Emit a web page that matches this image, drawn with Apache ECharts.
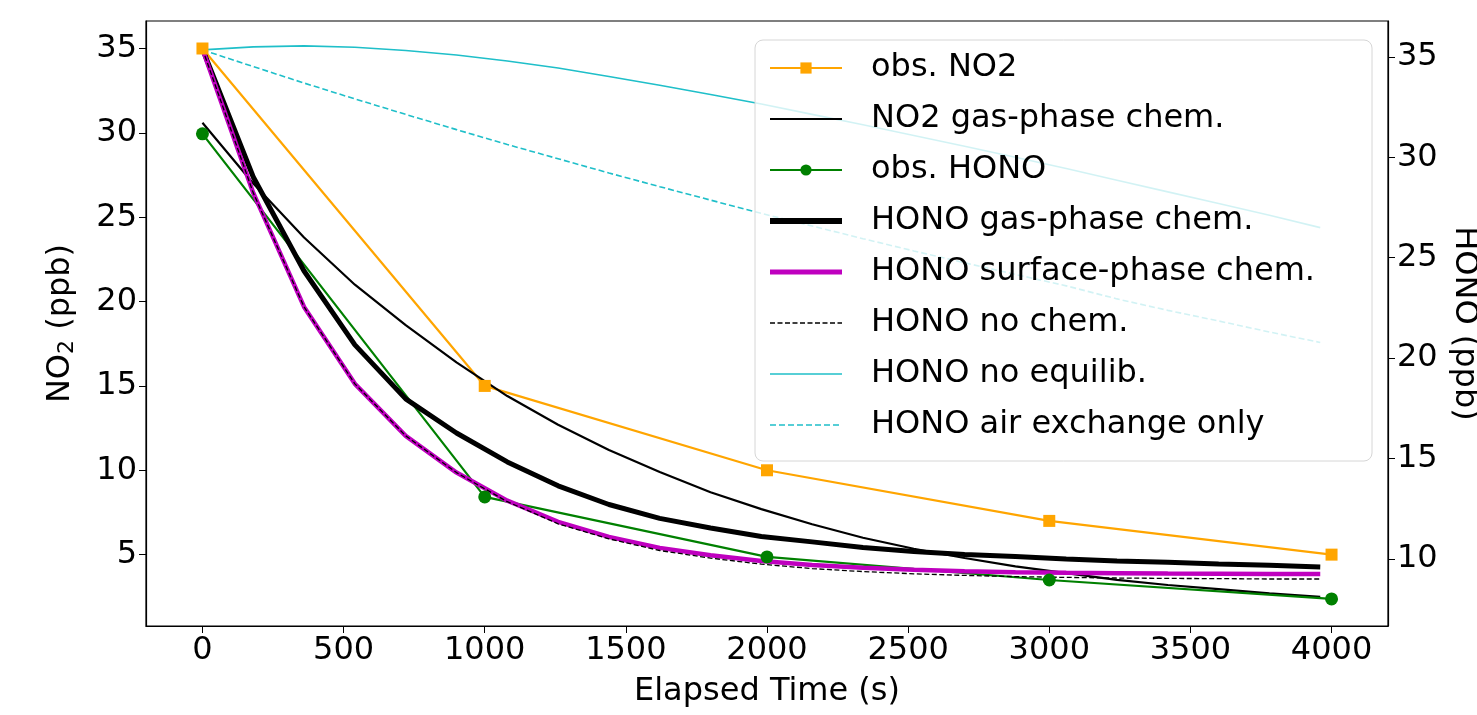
<!DOCTYPE html>
<html>
<head>
	<meta charset="UTF-8">
	<title>NO2 / HONO decay</title>
	<script src="https://cdn.jsdelivr.net/npm/echarts@6/dist/echarts.min.js"></script>
	<style>
		html, body { margin: 0; padding: 0; background: #fff; }
	</style>
</head>
<body>
	<div id="main" style="width: 1477px; height: 715px;"></div>
	<script>
		// elapsed time (s) of observations and of model output (3 min steps)
		var obsTime = [0, 1000, 2000, 3000, 4000];
		var modelTime = [0, 180, 360, 540, 720, 900, 1080, 1260, 1440, 1620, 1800, 1980,
			2160, 2340, 2520, 2700, 2880, 3060, 3240, 3420, 3600, 3780, 3960];

		// left axis (NO2, ppb)
		var obsNO2 = [35, 15, 10, 7, 5];
		var no2GasPhase = [30.6, 27.0, 23.8, 21.0, 18.6, 16.4, 14.4, 12.7, 11.2, 9.9, 8.7, 7.7,
			6.8, 6.0, 5.35, 4.8, 4.3, 3.9, 3.5, 3.2, 2.95, 2.7, 2.5];

		// right axis (HONO, ppb)
		var obsHONO = [31.17, 13.09, 10.10, 8.95, 8.01];
		var honoGasPhase = [35.40, 29.02, 24.34, 20.66, 17.97, 16.27, 14.83, 13.64, 12.71, 12.02, 11.54, 11.12,
			10.85, 10.57, 10.37, 10.22, 10.12, 10.00, 9.90, 9.83, 9.75, 9.68, 9.60];
		var honoSurface = [35.40, 28.23, 22.55, 18.72, 16.13, 14.30, 12.90, 11.85, 11.10, 10.55, 10.18, 9.90,
			9.70, 9.56, 9.46, 9.39, 9.34, 9.31, 9.29, 9.27, 9.26, 9.25, 9.25];
		var honoNoChem = [35.40, 28.23, 22.55, 18.72, 16.13, 14.30, 12.85, 11.75, 11.00, 10.42, 10.04, 9.74,
			9.52, 9.37, 9.26, 9.18, 9.12, 9.08, 9.05, 9.03, 9.02, 9.00, 9.00];
		var honoNoEquilib = [35.35, 35.50, 35.55, 35.48, 35.32, 35.10, 34.80, 34.45, 34.03, 33.59, 33.13, 32.66,
			32.14, 31.62, 31.09, 30.55, 30.00, 29.44, 28.86, 28.28, 27.70, 27.12, 26.50];
		var honoAirExchange = [35.35, 34.52, 33.70, 32.91, 32.14, 31.38, 30.64, 29.93, 29.22, 28.54, 27.87, 27.21,
			26.58, 25.95, 25.34, 24.75, 24.17, 23.60, 22.95, 22.38, 21.85, 21.30, 20.78];

		// tick labels
		var xTicks = [0, 500, 1000, 1500, 2000, 2500, 3000, 3500, 4000];
		var leftTicks = [5, 10, 15, 20, 25, 30, 35];
		var rightTicks = [10, 15, 20, 25, 30, 35];

		function pairs(xs, ys) {
			var res = [];
			for (var i = 0; i < xs.length; i++) {
				res.push([xs[i], ys[i]]);
			}
			return res;
		}

		var font = 'DejaVu Sans';
		var tickFont = { color: '#000', fontSize: 32, fontFamily: font };
		var plainNum = function (v) { return String(v); };
		var noMarker = { opacity: 0 };
		var axisLine = { show: true, onZero: false, lineStyle: { color: '#000', width: 1.2 } };

		var myChart = echarts.init(document.getElementById('main'));

		var option = {
			animation: false,
			backgroundColor: '#fff',
			grid: {
				left: 146, right: 89, top: 21, bottom: 89,
				outerBoundsMode: 'none',
				show: true, borderColor: '#000', borderWidth: 1.2
			},
			legend: {
				left: 755, top: 40,
				orient: 'vertical',
				padding: [10, 6, 18, 12],
				itemWidth: 72, itemHeight: 14,
				itemGap: 15,
				backgroundColor: 'rgba(255,255,255,0.8)',
				borderColor: '#d6d6d6', borderWidth: 1, borderRadius: 8,
				textStyle: {
					color: '#000', fontSize: 32, fontFamily: font,
					lineHeight: 36, width: 495, padding: [0, 0, 0, 24]
				},
				data: [
					{ name: 'obs. NO2' },
					{ name: 'NO2 gas-phase chem.', itemStyle: noMarker, lineStyle: { width: 2.2 } },
					{ name: 'obs. HONO' },
					{ name: 'HONO gas-phase chem.', itemStyle: noMarker, lineStyle: { width: 6 } },
					{ name: 'HONO surface-phase chem.', itemStyle: noMarker, lineStyle: { width: 5 } },
					{ name: 'HONO no chem.', itemStyle: noMarker, lineStyle: { width: 1.5 } },
					{ name: 'HONO no equilib.', itemStyle: noMarker, lineStyle: { width: 1.6 } },
					{ name: 'HONO air exchange only', itemStyle: noMarker, lineStyle: { width: 1.6 } }
				]
			},
			xAxis: {
				type: 'value',
				min: -200, max: 4200,
				name: 'Elapsed Time (s)',
				nameLocation: 'middle',
				nameGap: 50,
				nameTextStyle: tickFont,
				axisLine: axisLine,
				axisTick: { show: true, length: 7, lineStyle: { color: '#000' }, customValues: xTicks },
				axisLabel: Object.assign({ margin: 9, customValues: xTicks, formatter: plainNum }, tickFont),
				splitLine: { show: false }
			},
			yAxis: [{
				type: 'value',
				position: 'left',
				min: 0.77, max: 36.63,
				name: '{a|NO}{s|2}{a| (ppb)}',
				nameLocation: 'middle',
				nameGap: 68,
				nameTextStyle: {
					rich: {
						a: { fontSize: 32, fontFamily: font, color: '#000' },
						s: { fontSize: 22, fontFamily: font, color: '#000', padding: [12, 0, 0, 0] }
					}
				},
				axisLine: axisLine,
				axisTick: { show: true, length: 7, lineStyle: { color: '#000' }, customValues: leftTicks },
				axisLabel: Object.assign({ margin: 9, customValues: leftTicks, formatter: plainNum }, tickFont),
				splitLine: { show: false }
			}, {
				type: 'value',
				position: 'right',
				min: 6.66, max: 36.79,
				name: 'HONO (ppb)',
				nameLocation: 'middle',
				nameRotate: -90,
				nameGap: 60,
				nameTextStyle: tickFont,
				axisLine: axisLine,
				axisTick: { show: true, length: 7, lineStyle: { color: '#000' }, customValues: rightTicks },
				axisLabel: Object.assign({ margin: 9, customValues: rightTicks, formatter: plainNum }, tickFont),
				splitLine: { show: false }
			}],
			series: [{
				name: 'obs. NO2',
				type: 'line',
				yAxisIndex: 0,
				data: pairs(obsTime, obsNO2),
				symbol: 'rect', symbolSize: 12,
				itemStyle: { color: '#FFA500' },
				lineStyle: { color: '#FFA500', width: 2.2 }
			}, {
				name: 'NO2 gas-phase chem.',
				type: 'line',
				yAxisIndex: 0,
				data: pairs(modelTime, no2GasPhase),
				symbol: 'none',
				itemStyle: { color: '#000' },
				lineStyle: { color: '#000', width: 2.2 }
			}, {
				name: 'obs. HONO',
				type: 'line',
				yAxisIndex: 1,
				data: pairs(obsTime, obsHONO),
				symbol: 'circle', symbolSize: 13,
				itemStyle: { color: '#008000' },
				lineStyle: { color: '#008000', width: 2.2 }
			}, {
				name: 'HONO gas-phase chem.',
				type: 'line',
				yAxisIndex: 1,
				data: pairs(modelTime, honoGasPhase),
				symbol: 'none',
				itemStyle: { color: '#000' },
				lineStyle: { color: '#000', width: 5 }
			}, {
				name: 'HONO surface-phase chem.',
				type: 'line',
				yAxisIndex: 1,
				data: pairs(modelTime, honoSurface),
				symbol: 'none',
				itemStyle: { color: '#BF00BF' },
				lineStyle: { color: '#BF00BF', width: 4.5 }
			}, {
				name: 'HONO no chem.',
				type: 'line',
				yAxisIndex: 1,
				data: pairs(modelTime, honoNoChem),
				symbol: 'none',
				itemStyle: { color: '#000' },
				lineStyle: { color: '#000', width: 1.3, type: [5, 2.5] }
			}, {
				name: 'HONO no equilib.',
				type: 'line',
				yAxisIndex: 1,
				data: pairs(modelTime, honoNoEquilib),
				symbol: 'none',
				itemStyle: { color: '#1fbfc9' },
				lineStyle: { color: '#1fbfc9', width: 1.6 }
			}, {
				name: 'HONO air exchange only',
				type: 'line',
				yAxisIndex: 1,
				data: pairs(modelTime, honoAirExchange),
				symbol: 'none',
				itemStyle: { color: '#1fbfc9' },
				lineStyle: { color: '#1fbfc9', width: 1.6, type: [6, 3] }
			}]
		};

		myChart.setOption(option);
	</script>
</body>
</html>
